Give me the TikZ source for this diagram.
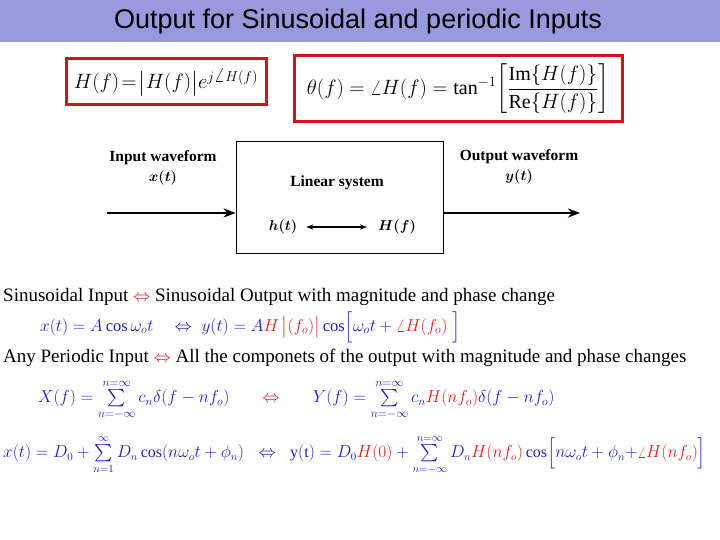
\documentclass[tikz,border=0pt]{standalone}
\usepackage{fontspec}
\setmainfont{Liberation Serif}
\newfontfamily\titlefont{Liberation Sans}
\usepackage{amsmath}
\usetikzlibrary{arrows.meta}
\definecolor{tbar}{RGB}{153,153,221}
\definecolor{eqb}{RGB}{30,30,190}
\definecolor{eqr}{RGB}{215,30,30}
\definecolor{boxr}{RGB}{210,20,30}
\begin{document}
\begin{tikzpicture}[x=1pt,y=-1pt,
  redbox/.style={draw=boxr,line width=3pt},
  lbl/.style={font=\bfseries\fontsize{15.5}{18}\selectfont,inner sep=1pt},
  txt/.style={anchor=west,inner sep=0pt,font=\fontsize{19}{22}\selectfont},
  eq/.style={anchor=west,inner sep=0pt,font=\fontsize{16.5}{19}\selectfont,text=eqb},
  thick arrow/.style={line width=2.5pt,-{Stealth[length=12pt,width=9pt]}}]
\useasboundingbox (0,0) rectangle (720,540);
\fill[tbar] (0,0) rectangle (720,42);
\node (title) at (358,22) {\titlefont\fontsize{27}{31}\selectfont Output for Sinusoidal and periodic Inputs};
% red boxes
\node[redbox,minimum width=200pt,minimum height=46pt,inner sep=0pt] (f1) at (166,82) {\fontsize{20}{23}\selectfont$H(f)\!=\!\bigl|H(f)\bigr|e^{j\angle H(f)}$};
\node[redbox,minimum width=328pt,minimum height=66pt] (f2) at (458,89) {\fontsize{20}{23}\selectfont$\theta(f)=\angle H(f)=\tan^{-1}\!\left[\dfrac{\mathrm{Im}\{H(f)\}}{\mathrm{Re}\{H(f)\}}\right]$};
% block diagram
\node[draw,thick,minimum width=207pt,minimum height=112pt] (sys) at (339.5,197) {};
\node[lbl] (lin) at (337,183) {Linear system};
\node[lbl] (in1) at (163,158) {Input waveform};
\node[lbl] (in2) at (163,178) {$\boldsymbol{x(t)}$};
\node[lbl] (out1) at (519,157) {Output waveform};
\node[lbl] (out2) at (519,177) {$\boldsymbol{y(t)}$};
\node[lbl] (ht) at (283,227) {$\boldsymbol{h(t)}$};
\node[lbl] (Hf) at (397,227) {$\boldsymbol{H(f)}$};
\coordinate (inS) at (107,213);
\coordinate (outE) at (580,213);
\draw[thick arrow] (inS) -- (inS -| sys.west);
\draw[thick arrow] (outE -| sys.east) -- (outE);
\draw[line width=1.5pt,{Stealth[length=7pt]}-{Stealth[length=7pt]}] ([xshift=8pt]ht.east) -- ([xshift=-10pt]Hf.west);
% text lines
\node[txt] (l1) at (3,297) {Sinusoidal Input {\color{eqr}$\Leftrightarrow$} Sinusoidal Output with magnitude and phase change};
\node[eq] (l2) at (40,327) {$x(t)=A\cos\omega_o t\quad\Leftrightarrow\; y(t)=A{\color{eqr}H\,\bigl|(f_o)\bigr|}\cos\Bigl[\omega_o t+{\color{eqr}\angle H(f_o)}\;\Bigr]$};
\node[txt] (l3) at (3,358) {Any Periodic Input {\color{eqr}$\Leftrightarrow$} All the componets of the output with magnitude and phase changes};
\node[eq] (l4) at (38,400) {$X(f)=\sum\limits_{n=-\infty}^{n=\infty}c_n\delta(f-nf_o)\qquad{\color{eqr}\Leftrightarrow}\qquad Y(f)=\sum\limits_{n=-\infty}^{n=\infty}c_n{\color{eqr}H(nf_o)}\delta(f-nf_o)$};
\node[eq,font=\fontsize{16}{19}\selectfont] (l5) at (3,455) {$x(t)=D_0+\sum\limits_{n=1}^{\infty}D_n\cos(n\omega_o t+\phi_n)\;\;\Leftrightarrow\;\;\mathrm{y(t)}=D_0{\color{eqr}H(0)}+\sum\limits_{n=-\infty}^{n=\infty}D_n{\color{eqr}H(nf_o)}\cos\Bigl[n\omega_o t+\phi_n{+}{\color{eqr}\angle H(nf_o)}\Bigr]$};
\end{tikzpicture}
\end{document}
